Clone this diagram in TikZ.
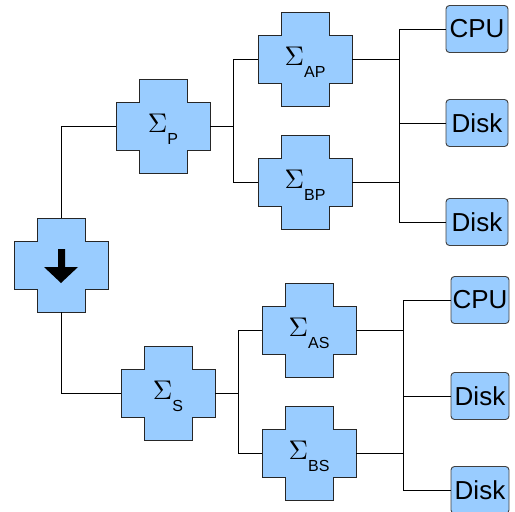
\documentclass[tikz,border=0pt]{standalone}
\usepackage{graphicx}
\usepackage{fontspec}
\setmainfont{Liberation Sans}
\usetikzlibrary{positioning}
\definecolor{crossblue}{HTML}{99CCFF}

\tikzset{
  crossline/.style={draw=black!85, fill=crossblue, line width=0.9pt},
  sumnode/.style={minimum width=94pt, minimum height=94pt, inner sep=0pt},
  unitbox/.style={draw=black!75, fill=crossblue, line width=0.9pt, rounded corners=3.5pt,
    minimum width=62pt, minimum height=47pt, inner sep=0pt, font=\fontsize{26}{26}\selectfont},
  wire/.style={line width=0.8pt, black}
}

% cross shaped block: name, centre, subscript
\newcommand{\sumcross}[3]{%
  \draw[crossline, shift={(#2)}] (-24,-47) -- (24,-47) -- (24,-24) -- (47,-24) -- (47,24)
    -- (24,24) -- (24,47) -- (-24,47) -- (-24,24) -- (-47,24) -- (-47,-24) -- (-24,-24) -- cycle;
  \node[sumnode] (#1) at (#2) {\rule{0pt}{25pt}\scalebox{2.7}{$\Sigma$}\raisebox{-11.5pt}{\fontsize{16}{16}\selectfont #3}};
}

\begin{document}
\begin{tikzpicture}[x=1pt, y=-1pt]
\useasboundingbox (0,0) rectangle (515,512);

% root block with the arrow
\draw[crossline, shift={(61,265)}] (-24,-47) -- (24,-47) -- (24,-24) -- (47,-24) -- (47,24)
  -- (24,24) -- (24,47) -- (-24,47) -- (-24,24) -- (-47,24) -- (-47,-24) -- (-24,-24) -- cycle;
\node[sumnode] (root) at (61,265) {};
\fill[black] (58,249) -- (65,249) -- (65,267) -- (78,267) -- (61,283) -- (44,267) -- (58,267) -- cycle;

\sumcross{P}{163,126}{P}
\sumcross{S}{168,393}{S}
\sumcross{AP}{305,59}{AP}
\sumcross{BP}{305,182}{BP}
\sumcross{AS}{309,330}{AS}
\sumcross{BS}{309,453}{BS}

\node[unitbox] (pcpu) at (477,29) {CPU};
\node[unitbox] (pdiskA) at (477,123) {Disk};
\node[unitbox] (pdiskB) at (477,222) {Disk};
\node[unitbox, minimum width=58pt] (scpu) at (480,300) {CPU};
\node[unitbox, minimum width=58pt] (sdiskA) at (480,396) {Disk};
\node[unitbox, minimum width=58pt] (sdiskB) at (480,490) {Disk};

\coordinate (pbus) at (399,0);
\coordinate (sbus) at (403,0);

\draw[wire] (root.north) |- (P.west);
\draw[wire] (root.south) |- (S.west);

\draw[wire] (P.east) -- ++(23,0) coordinate (pj);
\draw[wire] (AP.west) -| (pj) |- (BP.west);
\draw[wire] (S.east) -- ++(23,0) coordinate (sj);
\draw[wire] (AS.west) -| (sj) |- (BS.west);

\draw[wire] (AP.east) -- (AP.east -| pbus);
\draw[wire] (BP.east) -- (BP.east -| pbus);
\draw[wire] (pcpu.west) -| (pbus |- pdiskB.west) -- (pdiskB.west);
\draw[wire] (pdiskA.west) -- (pdiskA.west -| pbus);

\draw[wire] (AS.east) -- (AS.east -| sbus);
\draw[wire] (BS.east) -- (BS.east -| sbus);
\draw[wire] (scpu.west) -| (sbus |- sdiskB.west) -- (sdiskB.west);
\draw[wire] (sdiskA.west) -- (sdiskA.west -| sbus);
\end{tikzpicture}
\end{document}
